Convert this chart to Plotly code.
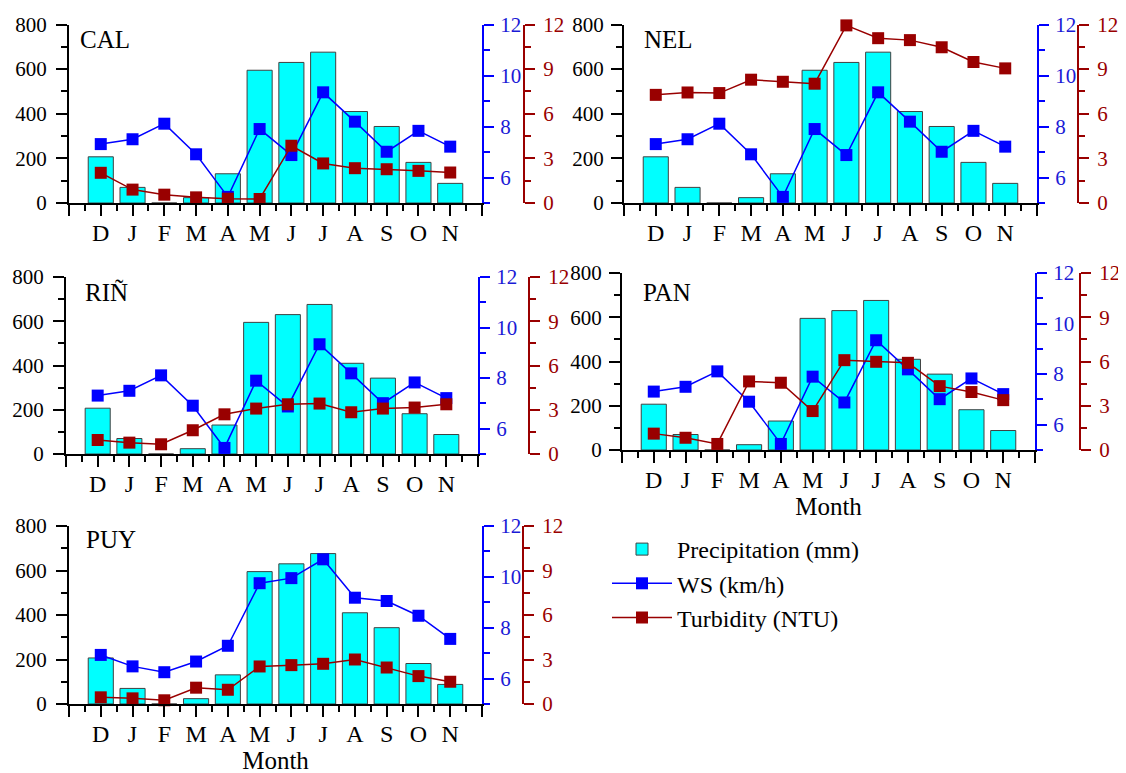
import plotly.graph_objects as go

# ---------------- data ----------------
months = ["D", "J", "F", "M", "A", "M", "J", "J", "A", "S", "O", "N"]
stations = ["CAL", "NEL", "RIÑ", "PAN", "PUY"]

precip = [207, 70, 0, 24, 131, 595, 630, 676, 410, 343, 182, 88]

ws_cal = [7.31, 7.50, 8.11, 6.91, 5.24, 7.90, 6.88, 9.34, 8.19, 7.01, 7.83, 7.21]
ws_nel = [7.31, 7.50, 8.11, 6.91, 5.24, 7.90, 6.88, 9.34, 8.19, 7.01, 7.83, 7.21]
ws_rin = [7.31, 7.50, 8.11, 6.91, 5.24, 7.90, 6.88, 9.34, 8.19, 7.01, 7.83, 7.21]
ws_pan = [7.31, 7.50, 8.11, 6.91, 5.24, 7.90, 6.88, 9.34, 8.19, 7.01, 7.83, 7.21]
ws_puy = [6.93, 6.48, 6.25, 6.67, 7.29, 9.75, 9.95, 10.69, 9.18, 9.05, 8.47, 7.56]

turb_cal = [2.03, 0.90, 0.56, 0.38, 0.29, 0.27, 3.85, 2.66, 2.34, 2.27, 2.16, 2.05]
turb_nel = [7.27, 7.43, 7.39, 8.29, 8.15, 8.02, 11.94, 11.08, 10.95, 10.47, 9.48, 9.05]
turb_rin = [0.95, 0.77, 0.66, 1.61, 2.69, 3.08, 3.37, 3.42, 2.83, 3.08, 3.15, 3.37]
turb_pan = [1.11, 0.83, 0.41, 4.65, 4.56, 2.64, 6.09, 5.98, 5.91, 4.33, 3.93, 3.38]
turb_puy = [0.45, 0.38, 0.25, 1.10, 0.96, 2.53, 2.62, 2.71, 3.00, 2.46, 1.88, 1.50]

ws_all = [ws_cal, ws_nel, ws_rin, ws_pan, ws_puy]
turb_all = [turb_cal, turb_nel, turb_rin, turb_pan, turb_puy]

precip_ticks = [0, 200, 400, 600, 800]
ws_ticks = [6, 8, 10, 12]
turb_ticks = [0, 3, 6, 9, 12]

# ---------------- layout geometry (screen pixels) ----------------
W, H = 1126, 773
OX, OY = 8, 8          # page body margin
FONT = "Liberation Serif"
BLUE = "#0000ff"
BLUE_TXT = "#1a1ad6"
RED = "#990000"


def px(x):
    return (x - OX) / W


def py(y):
    return 1 - (y - OY) / H


# left axis x, blue axis x, red axis x, top y, bottom y, label (x, y),
# show "Month", left tick-label standoff
geom = [
    (69, 482, 524, 24.5, 203, 78, 40, False, 5),
    (624, 1037, 1078, 24.5, 203, 642, 40, False, 3),
    (66, 478, 529, 277, 454, 83, 292, False, 5),
    (622, 1035, 1080, 273, 450, 641, 292, True, 3),
    (69, 482, 523, 526, 704, 84, 539, True, 5),
]

fig = go.Figure()
layout = dict(
    width=W, height=H, autosize=False,
    margin=dict(l=0, r=0, t=0, b=0, pad=0, autoexpand=False),
    paper_bgcolor="white", plot_bgcolor="rgba(0,0,0,0)",
    font=dict(family=FONT, color="black", size=20),
    annotations=[],
)

xs = list(range(len(months)))
x_tickvals = [-1] + xs + [len(months)]
x_ticktext = [""] + months + [""]

for i, (name, g) in enumerate(zip(stations, geom)):
    xl, xb, xr, yt, yb, lx, ly, month_title, lstand = g
    k = i + 1
    xid = "x" if k == 1 else f"x{k}"
    n = 3 * i + 1
    yl = "y" if n == 1 else f"y{n}"
    ybl = f"y{n + 1}"
    yrd = f"y{n + 2}"
    show = (k == 1)

    fig.add_trace(go.Bar(
        x=xs, y=precip, xaxis=xid, yaxis=yl, width=0.79,
        marker=dict(color="#00ffff", line=dict(color="#404040", width=1)),
        name="Precipitation (mm)", showlegend=show, legendgroup="p"))
    fig.add_trace(go.Scatter(
        x=xs, y=ws_all[i], xaxis=xid, yaxis=ybl, mode="lines+markers",
        line=dict(color=BLUE, width=1.5),
        marker=dict(symbol="square", size=12, color=BLUE),
        cliponaxis=False, name="WS (km/h)", showlegend=show, legendgroup="w"))
    fig.add_trace(go.Scatter(
        x=xs, y=turb_all[i], xaxis=xid, yaxis=yrd, mode="lines+markers",
        line=dict(color=RED, width=1.5),
        marker=dict(symbol="square", size=12, color=RED),
        cliponaxis=False, name="Turbidity (NTU)", showlegend=show, legendgroup="t"))

    xa = dict(
        domain=[px(xl), px(xb)], anchor=yl, range=[-1, len(months)],
        tickmode="array", tickvals=x_tickvals, ticktext=x_ticktext,
        ticks="outside", ticklen=11, tickwidth=2, tickcolor="black",
        ticklabelstandoff=-4,
        minor=dict(tickmode="linear", tick0=-1, dtick=0.5, ticks="outside",
                   ticklen=6, tickwidth=2, tickcolor="black"),
        showline=True, linewidth=2, linecolor="black", automargin=False,
        showgrid=False, zeroline=False, tickfont=dict(size=24),
    )
    if month_title:
        xa["title"] = dict(text="Month", font=dict(size=25), standoff=4)
    layout["xaxis" if k == 1 else f"xaxis{k}"] = xa

    layout["yaxis" if n == 1 else f"yaxis{n}"] = dict(
        domain=[py(yb), py(yt)], anchor=xid, range=[0, 800],
        tickmode="array", tickvals=precip_ticks,
        ticks="outside", ticklen=11, tickwidth=2, tickcolor="black",
        ticklabelstandoff=lstand,
        minor=dict(tickmode="linear", tick0=0, dtick=100, ticks="outside",
                   ticklen=6, tickwidth=2, tickcolor="black"),
        showline=True, linewidth=2, linecolor="black", automargin=False,
        showgrid=False, zeroline=False, tickfont=dict(size=21),
    )
    layout[f"yaxis{n + 1}"] = dict(
        overlaying=yl, anchor=xid, side="right", range=[5, 12],
        tickmode="array", tickvals=ws_ticks,
        ticks="outside", ticklen=10, tickwidth=2, tickcolor=BLUE,
        ticklabelstandoff=2,
        minor=dict(tickmode="linear", tick0=5, dtick=1, ticks="outside",
                   ticklen=6, tickwidth=2, tickcolor=BLUE),
        showline=True, linewidth=2, linecolor=BLUE, automargin=False,
        showgrid=False, zeroline=False, tickfont=dict(size=21, color=BLUE_TXT),
    )
    layout[f"yaxis{n + 2}"] = dict(
        overlaying=yl, anchor="free", position=px(xr), side="right", range=[0, 12],
        tickmode="array", tickvals=turb_ticks,
        ticks="outside", ticklen=10, tickwidth=2, tickcolor=RED,
        ticklabelstandoff=4,
        minor=dict(tickmode="linear", tick0=0, dtick=1.5, ticks="outside",
                   ticklen=6, tickwidth=2, tickcolor=RED),
        showline=True, linewidth=2, linecolor=RED, automargin=False,
        showgrid=False, zeroline=False, tickfont=dict(size=21, color=RED),
    )

    layout["annotations"].append(dict(
        text=name, xref="paper", yref="paper", x=px(lx), y=py(ly),
        xanchor="left", yanchor="middle", showarrow=False,
        font=dict(size=25, family=FONT, color="black")))

layout["legend"] = dict(
    x=px(607), y=py(527), xanchor="left", yanchor="top",
    font=dict(size=24, family=FONT, color="black"),
    bgcolor="rgba(0,0,0,0)", itemwidth=60, tracegroupgap=0,
)

fig.update_layout(**layout)
fig.write_html("out.html")
